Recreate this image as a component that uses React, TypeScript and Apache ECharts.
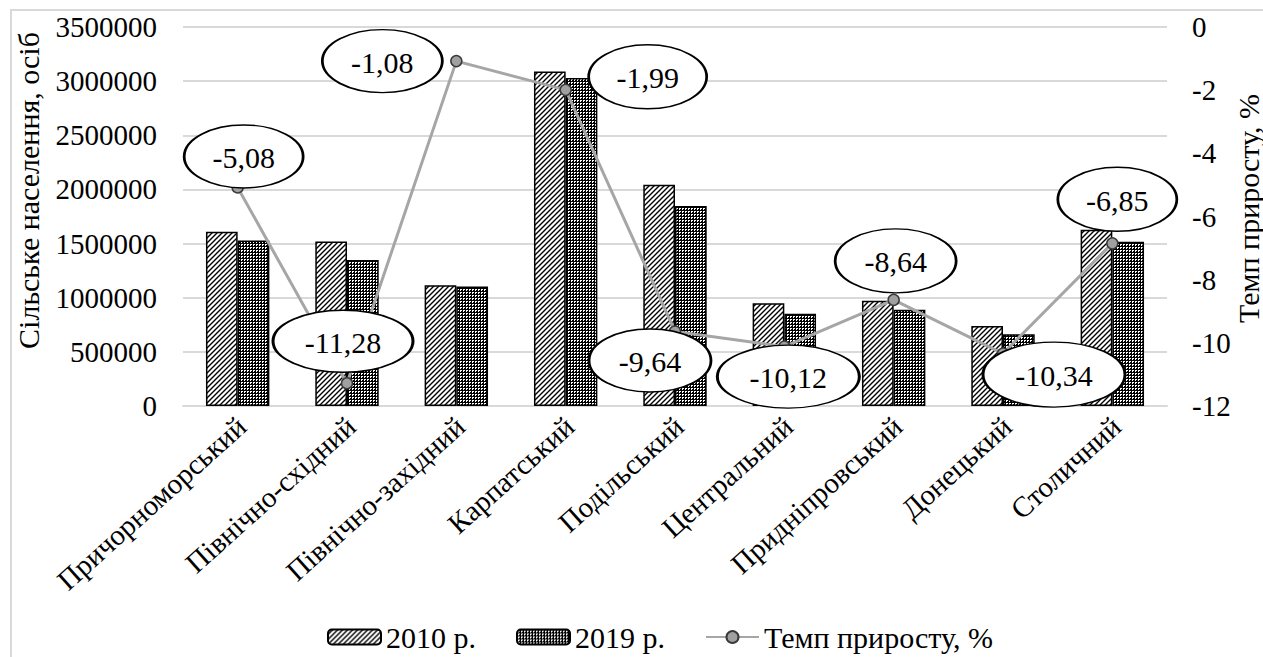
import React, { useEffect, useRef } from "react";
import * as echarts from "echarts";

// Economic regions of Ukraine
const regions = [
  "Причорноморський",
  "Північно-східний",
  "Північно-західний",
  "Карпатський",
  "Подільський",
  "Центральний",
  "Придніпровський",
  "Донецький",
  "Столичний",
];

// Rural population, persons
const rural2010 = [1610000, 1519000, 1115000, 3090000, 2043000, 949000, 973000, 739000, 1627000];
const rural2019 = [1528000, 1348000, 1103000, 3029000, 1846000, 853000, 889000, 663000, 1516000];

// Growth rate 2019 vs 2010, %
const growthRate = [-5.08, -11.28, -1.08, -1.99, -9.64, -10.12, -8.64, -10.34, -6.85];

// Tick labels of both value axes
const populationTicks = [0, 500000, 1000000, 1500000, 2000000, 2500000, 3000000, 3500000];
const rateTicks = [0, -2, -4, -6, -8, -10, -12];

const seriesNames = ["2010 р.", "2019 р.", "Темп приросту, %"];
const leftAxisName = "Сільське населення, осіб";
const rightAxisName = "Темп приросту, %";

// Callout bubble placement relative to each point (px) and bubble size (px)
const calloutOffsets = [
  [6, -31],
  [-4, -42],
  [-74, 0],
  [82, -13],
  [-25, 29],
  [4, 30],
  [2, -39],
  [51, 21],
  [5, -44],
];
const calloutSizes = [
  [119, 63],
  [140, 62],
  [120, 63],
  [118, 64],
  [122, 63],
  [142, 63],
  [121, 64],
  [142, 65],
  [119, 64],
];

const FONT = "Liberation Serif";
const GRID = { left: 183, right: 96, top: 27, bottom: 251 };
const WIDTH = 1263;

const ELLIPSE =
  "path://M0,-1C0.5523,-1,1,-0.5523,1,0C1,0.5523,0.5523,1,0,1C-0.5523,1,-1,0.5523,-1,0C-1,-0.5523,-0.5523,-1,0,-1Z";

function hatchTile(): HTMLCanvasElement {
  const c = document.createElement("canvas");
  c.width = 5;
  c.height = 5;
  const g = c.getContext("2d")!;
  g.fillStyle = "#ffffff";
  g.fillRect(0, 0, 5, 5);
  g.strokeStyle = "#000000";
  g.lineWidth = 1.4;
  g.beginPath();
  g.moveTo(-1, 6);
  g.lineTo(6, -1);
  g.moveTo(-1, 1);
  g.lineTo(1, -1);
  g.moveTo(4, 6);
  g.lineTo(6, 4);
  g.stroke();
  return c;
}

function dotTile(): HTMLCanvasElement {
  const c = document.createElement("canvas");
  c.width = 3;
  c.height = 3;
  const g = c.getContext("2d")!;
  g.fillStyle = "#000000";
  g.fillRect(0, 0, 3, 3);
  g.fillStyle = "#ffffff";
  g.fillRect(1, 1, 2, 1);
  g.fillRect(1, 2, 1, 1);
  return c;
}

const fmtComma = (v: number) => v.toFixed(2).replace(".", ",");

// Serif text element for the graphic component
function label(
  id: string,
  text: string,
  x: number,
  y: number,
  fontSize: number,
  align: "left" | "center" | "right",
  rotation = 0,
  z = 10
) {
  return {
    type: "text",
    id,
    x,
    y,
    rotation,
    z,
    silent: true,
    style: {
      text,
      fontFamily: FONT,
      fontSize,
      fill: "#000",
      align,
      verticalAlign: "middle",
      textAlign: align,
      textVerticalAlign: "middle",
    },
  };
}

export default function App() {
  const ref = useRef<HTMLDivElement>(null);

  useEffect(() => {
    if (!ref.current) return;
    const chart = echarts.init(ref.current, undefined, { renderer: "svg" });
    const hatch = { image: hatchTile(), repeat: "repeat" };
    const dots = { image: dotTile(), repeat: "repeat" };

    const frame = {
      type: "rect",
      id: "frame",
      shape: { x: 11, y: 10, width: 1400, height: 800 },
      style: { fill: "none", stroke: "#d9d9d9", lineWidth: 2 },
      silent: true,
      z: -10,
    };

    chart.setOption({
      animation: false,
      backgroundColor: "#ffffff",
      textStyle: { fontFamily: FONT, color: "#000" },
      graphic: [frame],
      grid: { ...GRID, containLabel: false, outerBoundsMode: "none" },
      legend: {
        data: seriesNames,
        left: 322,
        top: 617,
        itemWidth: 53,
        itemHeight: 15,
        itemGap: 40,
        textStyle: { fontFamily: FONT, fontSize: 30, color: "#000" },
      },
      xAxis: {
        type: "category",
        data: regions,
        axisTick: { show: false },
        axisLine: { show: true, lineStyle: { color: "#d9d9d9", width: 2 } },
        axisLabel: { show: false },
      },
      yAxis: [
        {
          type: "value",
          min: 0,
          max: 3500000,
          interval: 500000,
          axisLine: { show: false },
          axisTick: { show: false },
          axisLabel: { show: false },
          splitLine: { lineStyle: { color: "#d9d9d9", width: 2 } },
        },
        {
          type: "value",
          position: "right",
          min: -12,
          max: 0,
          interval: 2,
          axisLine: { show: false },
          axisTick: { show: false },
          splitLine: { show: false },
          axisLabel: { show: false },
        },
      ],
      series: [
        {
          name: seriesNames[0],
          type: "bar",
          data: rural2010,
          barGap: "0%",
          barCategoryGap: "42%",
          itemStyle: { color: hatch, borderColor: "#000", borderWidth: 1.5 },
        },
        {
          name: seriesNames[1],
          type: "bar",
          data: rural2019,
          itemStyle: { color: dots, borderColor: "#000", borderWidth: 1.5 },
        },
        {
          name: seriesNames[2],
          type: "line",
          yAxisIndex: 1,
          data: growthRate,
          z: 3,
          symbol: "circle",
          symbolSize: 11,
          lineStyle: { color: "#a6a6a6", width: 3 },
          itemStyle: { color: "#a0a0a0", borderColor: "#3a3a3a", borderWidth: 1.5 },
        },
        {
          name: "callouts",
          type: "scatter",
          yAxisIndex: 1,
          z: 4,
          silent: true,
          symbol: ELLIPSE,
          data: growthRate.map((v, i) => ({
            value: [i, v],
            symbolOffset: calloutOffsets[i],
            symbolSize: calloutSizes[i],
          })),
          itemStyle: { color: "#ffffff", borderColor: "#000000", borderWidth: 2, opacity: 1 },
          label: { show: false },
        },
      ],
    });

    // Axis labels, axis names and callout texts, placed through the chart's own scales
    const yLeft = (v: number) => chart.convertToPixel({ yAxisIndex: 0 }, v) as number;
    const yRight = (v: number) => chart.convertToPixel({ yAxisIndex: 1 }, v) as number;
    const xCat = (name: string) => chart.convertToPixel({ xAxisIndex: 0 }, name) as number;
    const axisLeftX = GRID.left;
    const axisRightX = WIDTH - GRID.right;
    const baseY = yLeft(0);
    const midY = (yLeft(0) + yLeft(3500000)) / 2;

    const texts: any[] = [];
    populationTicks.forEach((v, i) =>
      texts.push(label(`pt${i}`, String(v), axisLeftX - 26, yLeft(v), 29, "right"))
    );
    rateTicks.forEach((v, i) =>
      texts.push(label(`rt${i}`, String(v), axisRightX + 25, yRight(v), 29, "left"))
    );
    regions.forEach((r, i) =>
      texts.push(label(`cat${i}`, r, xCat(r) + 4, baseY + 16, 29, "right", (42 * Math.PI) / 180))
    );
    texts.push(label("nameL", leftAxisName, 28, midY - 26, 30, "center", Math.PI / 2));
    texts.push(label("nameR", rightAxisName, 1248, midY - 8, 30, "center", Math.PI / 2));
    growthRate.forEach((v, i) => {
      const [px, py] = chart.convertToPixel({ seriesIndex: 2 }, [i, v]) as number[];
      texts.push(
        label(
          `co${i}`,
          fmtComma(v),
          px + calloutOffsets[i][0],
          py + calloutOffsets[i][1] + 1,
          30,
          "center",
          0,
          20
        )
      );
    });

    chart.setOption({ graphic: [frame, ...texts] });

    return () => chart.dispose();
  }, []);

  return (
    <div
      ref={ref}
      style={{ position: "absolute", left: 0, top: 0, width: 1263, height: 657 }}
    />
  );
}
